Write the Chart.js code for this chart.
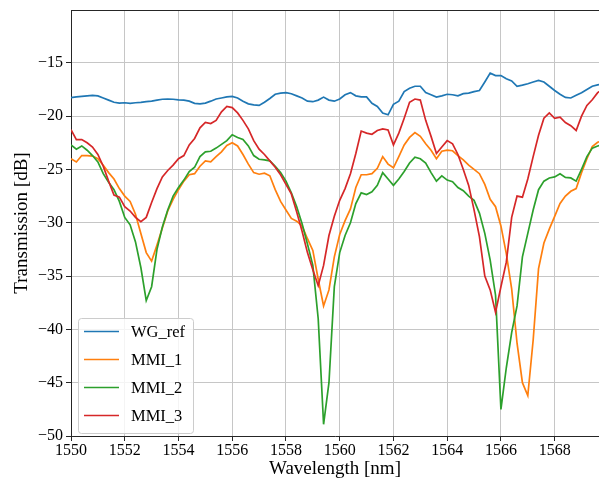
<!DOCTYPE html>
<html>
<head>
<meta charset="utf-8">
<script src="https://cdn.jsdelivr.net/npm/chart.js@4.4.1/dist/chart.umd.min.js"></script>
<style>
  html, body { margin: 0; padding: 0; background: #fff; }
  canvas { display: block; }
</style>
</head>
<body>
<canvas id="chart" width="599" height="481"></canvas>
<script>
// ------ Data ------
const wavelength = [
  1550.0, 1550.2, 1550.4, 1550.6, 1550.8, 1551.0, 1551.2, 1551.4, 1551.6, 1551.8,
  1552.0, 1552.2, 1552.4, 1552.6, 1552.8, 1553.0, 1553.2, 1553.4, 1553.6, 1553.8,
  1554.0, 1554.2, 1554.4, 1554.6, 1554.8, 1555.0, 1555.2, 1555.4, 1555.6, 1555.8,
  1556.0, 1556.2, 1556.4, 1556.6, 1556.8, 1557.0, 1557.2, 1557.4, 1557.6, 1557.8,
  1558.0, 1558.2, 1558.4, 1558.6, 1558.8, 1559.0, 1559.2, 1559.4, 1559.6, 1559.8,
  1560.0, 1560.2, 1560.4, 1560.6, 1560.8, 1561.0, 1561.2, 1561.4, 1561.6, 1561.8,
  1562.0, 1562.2, 1562.4, 1562.6, 1562.8, 1563.0, 1563.2, 1563.4, 1563.6, 1563.8,
  1564.0, 1564.2, 1564.4, 1564.6, 1564.8, 1565.0, 1565.2, 1565.4, 1565.6, 1565.8,
  1566.0, 1566.2, 1566.4, 1566.6, 1566.8, 1567.0, 1567.2, 1567.4, 1567.6, 1567.8,
  1568.0, 1568.2, 1568.4, 1568.6, 1568.8, 1569.0, 1569.2, 1569.4, 1569.6, 1569.8
];

const wgRef = [
  -18.26, -18.2, -18.15, -18.1, -18.05, -18.1, -18.3, -18.5, -18.7, -18.78,
  -18.75, -18.8, -18.75, -18.72, -18.65, -18.6, -18.5, -18.42, -18.4, -18.42,
  -18.47, -18.5, -18.6, -18.8, -18.85, -18.78, -18.6, -18.4, -18.3, -18.2,
  -18.16, -18.3, -18.6, -18.85, -18.95, -19.0, -18.7, -18.35, -17.95, -17.85,
  -17.8, -17.9, -18.1, -18.3, -18.6, -18.65, -18.5, -18.22, -18.5, -18.6,
  -18.4, -18.0, -17.8, -18.1, -18.2, -18.2, -18.8, -19.1, -19.72, -19.88,
  -18.9, -18.6, -17.7, -17.38, -17.2, -17.2, -17.8, -18.0, -18.22, -18.1,
  -17.95, -18.0, -18.1, -17.9, -17.85, -17.7, -17.6, -16.8, -15.97, -16.2,
  -16.2, -16.5, -16.7, -17.2, -17.1, -16.97, -16.8, -16.66, -16.8, -17.2,
  -17.6, -17.95, -18.25, -18.3, -18.05, -17.8, -17.5, -17.2, -17.07, -17.0
];

const mmi1 = [
  -24.0, -24.3, -23.7, -23.7, -23.75, -24.0, -24.6, -25.3, -25.9, -26.8,
  -27.5, -28.0, -29.2, -31.0, -32.8, -33.6, -32.1, -30.5, -28.9, -27.8,
  -26.9, -26.1, -25.5, -25.4, -24.7, -24.2, -24.3, -23.8, -23.35, -22.75,
  -22.5, -22.8, -23.6, -24.5, -25.3, -25.45, -25.35, -25.6, -26.9, -28.0,
  -28.8, -29.6, -29.85, -30.3, -31.5, -32.6, -35.3, -37.8, -36.3, -33.2,
  -31.1, -29.8, -28.7, -26.7, -25.5, -25.5, -25.4, -24.9, -23.8, -24.5,
  -24.85, -23.8, -22.7, -22.0, -21.55, -21.9, -22.6, -23.2, -24.0, -23.3,
  -23.2, -23.25, -23.7, -24.1, -24.6, -25.0, -25.4, -26.4, -27.8, -28.5,
  -30.3, -32.9, -36.2, -41.3, -45.0, -46.2, -41.0, -34.3, -31.9, -30.6,
  -29.4, -28.2, -27.5, -27.05, -26.8, -25.3, -24.0, -22.85, -22.45, -22.3
];

const mmi2 = [
  -22.7, -23.1, -22.8, -23.2, -23.7, -24.3, -25.4, -26.2, -26.9, -28.0,
  -29.5, -30.2, -31.8, -34.2, -37.3, -36.0, -32.5, -30.4, -28.8, -27.5,
  -26.7, -26.0, -25.2, -24.8, -23.8, -23.35, -23.3, -23.0, -22.65, -22.3,
  -21.75, -22.0, -22.2, -22.8, -23.7, -24.05, -24.1, -24.2, -24.7, -25.3,
  -26.1, -27.2, -28.5, -30.1, -32.0, -34.0, -39.0, -48.9, -45.0, -36.0,
  -32.8, -31.2, -30.0, -28.2, -27.2, -27.35, -27.1, -26.5, -25.3, -25.9,
  -26.5, -25.9, -25.2, -24.4, -23.85, -24.0, -24.4, -25.3, -26.1, -25.6,
  -26.0, -26.15, -26.7, -27.0, -27.5, -27.9, -29.1, -31.0, -33.5, -36.8,
  -47.5, -43.6, -40.3, -37.8, -33.2, -31.0, -28.8, -26.9, -26.1, -25.8,
  -25.7, -25.4, -25.75, -25.8, -26.1, -25.0, -23.8, -23.0, -22.8, -22.7
];

const mmi3 = [
  -21.28, -22.2, -22.2, -22.5, -22.9, -23.6, -24.7, -26.1, -27.4, -27.6,
  -28.5, -28.9, -29.5, -29.9, -29.5, -28.1, -26.8, -25.7, -25.1, -24.6,
  -24.0, -23.7, -22.7, -22.1, -21.1, -20.6, -20.7, -20.4, -19.6, -19.1,
  -19.2, -19.7, -20.4, -21.2, -22.3, -23.1, -23.6, -24.2, -24.8, -25.5,
  -26.4, -27.3, -29.0, -30.8, -32.8, -34.4, -35.9, -34.0, -31.2, -29.4,
  -27.9, -26.8, -25.4, -23.5, -21.4, -21.6, -21.7, -21.35, -21.2, -21.3,
  -22.7, -21.6, -20.2, -18.7, -18.4, -18.5, -20.4, -21.9, -23.5, -22.9,
  -22.3, -22.6, -23.6, -25.0, -26.5, -28.8, -31.3, -35.0, -36.3, -38.4,
  -36.0, -33.7, -29.5, -27.5, -27.6, -25.9, -23.8, -21.8, -20.2, -19.7,
  -20.2, -20.1, -20.6, -20.9, -21.35, -20.0, -19.0, -18.47, -17.8, -17.5
];

const seriesNames = ['WG_ref', 'MMI_1', 'MMI_2', 'MMI_3'];
const seriesColors = ['#1f77b4', '#ff7f0e', '#2ca02c', '#d62728'];
const xTicks = [1550, 1552, 1554, 1556, 1558, 1560, 1562, 1564, 1566, 1568];
const yTicks = [-50, -45, -40, -35, -30, -25, -20, -15];

// ------ Helpers ------
const SERIF = "'Liberation Serif', 'Times New Roman', serif";
const SPINE = '#262626';
const GRID = '#c6c6c6';
const toPoints = ys => ys.map((y, i) => ({ x: wavelength[i], y }));
const fmtY = v => (v < 0 ? '\u2212' + Math.abs(v) : String(v));

// top spine + matplotlib-style legend box in the lower left corner
const framePlugin = {
  id: 'frame',
  afterDatasetsDraw(chart) {
    const { ctx, chartArea } = chart;
    ctx.save();
    ctx.strokeStyle = SPINE;
    ctx.lineWidth = 1;
    ctx.beginPath();
    ctx.moveTo(chartArea.left, chartArea.top + 0.5);
    ctx.lineTo(chartArea.right, chartArea.top + 0.5);
    ctx.stroke();

    const bx = chartArea.left + 7, bw = 115, bh = 115;
    const by = chartArea.bottom - 3 - bh;
    ctx.beginPath();
    ctx.roundRect(bx + 0.5, by + 0.5, bw, bh, 3);
    ctx.fillStyle = 'rgba(255,255,255,0.8)';
    ctx.fill();
    ctx.strokeStyle = '#cccccc';
    ctx.stroke();

    ctx.font = '16.5px ' + SERIF;
    ctx.textBaseline = 'middle';
    ctx.fillStyle = '#000';
    seriesNames.forEach((name, i) => {
      const ry = by + 13.5 + i * 28;
      ctx.strokeStyle = seriesColors[i];
      ctx.lineWidth = 1.7;
      ctx.beginPath();
      ctx.moveTo(bx + 6, ry);
      ctx.lineTo(bx + 41, ry);
      ctx.stroke();
      ctx.fillText(name, bx + 53, ry + 1);
    });
    ctx.restore();
  }
};

// ------ Chart.js ------
const series = [wgRef, mmi1, mmi2, mmi3];
const chart = new Chart(document.getElementById('chart'), {
  type: 'line',
  data: {
    datasets: series.map((ys, i) => ({
      label: seriesNames[i],
      data: toPoints(ys),
      borderColor: seriesColors[i],
      backgroundColor: seriesColors[i],
      borderWidth: 1.7,
      pointRadius: 0,
      tension: 0,
      order: series.length - i
    }))
  },
  options: {
    responsive: false,
    animation: false,
    layout: { padding: { top: 10, right: 0, bottom: 0, left: 0 } },
    plugins: { legend: { display: false }, tooltip: { enabled: false } },
    scales: {
      x: {
        type: 'linear',
        min: 1550,
        max: 1569.65,
        afterBuildTicks: s => { s.ticks = xTicks.map(v => ({ value: v })); },
        afterFit: s => { s.height = 45; s.paddingLeft = 0; s.paddingRight = 0; },
        grid: { color: GRID, lineWidth: 1, tickColor: SPINE, tickLength: 5 },
        border: { color: SPINE, width: 1 },
        ticks: {
          color: '#000', font: { family: SERIF, size: 16 }, padding: 0,
          maxRotation: 0, autoSkip: false, callback: v => String(v)
        },
        title: {
          display: true, text: 'Wavelength [nm]', color: '#000',
          font: { family: SERIF, size: 19 }, padding: { top: 0, bottom: 1 }
        }
      },
      y: {
        type: 'linear',
        min: -50,
        max: -10.05,
        afterBuildTicks: s => { s.ticks = yTicks.map(v => ({ value: v })); },
        afterFit: s => { s.width = 71; s.paddingTop = 0; s.paddingBottom = 0; },
        grid: { color: GRID, lineWidth: 1, tickColor: SPINE, tickLength: 5 },
        border: { color: SPINE, width: 1 },
        ticks: {
          color: '#000', font: { family: SERIF, size: 16 }, padding: 3,
          autoSkip: false, callback: v => fmtY(v)
        },
        title: {
          display: true, text: 'Transmission [dB]', color: '#000',
          font: { family: SERIF, size: 19 }, padding: { top: 11, bottom: 0 }
        }
      }
    }
  },
  plugins: [framePlugin]
});
</script>
</body>
</html>
